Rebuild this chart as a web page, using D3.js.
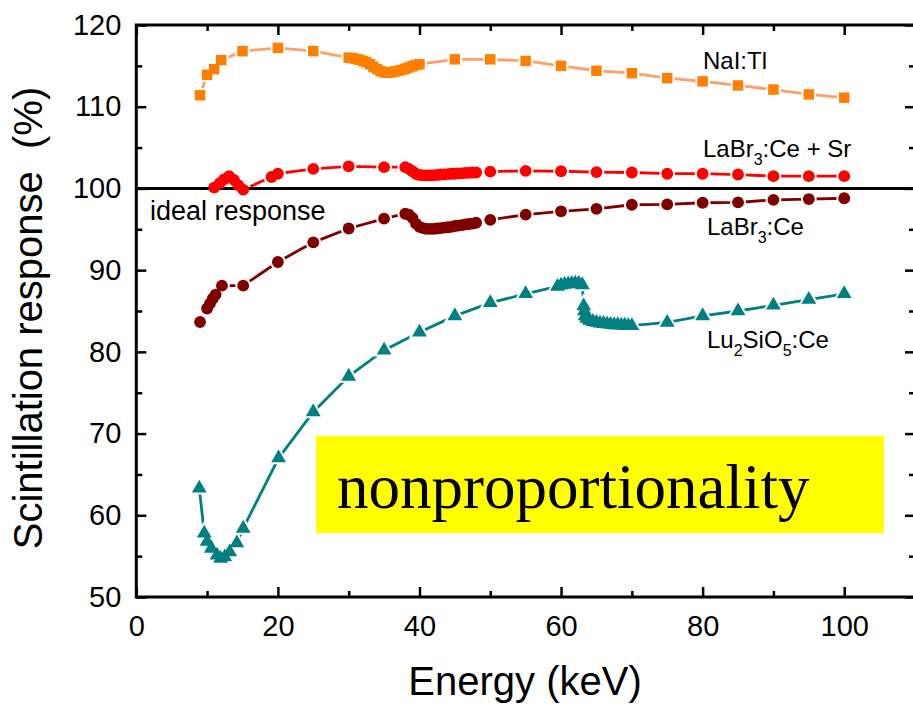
<!DOCTYPE html>
<html>
<head>
<meta charset="utf-8">
<script src="https://cdn.jsdelivr.net/npm/d3@7"></script>
<style>
  body { margin: 0; background: #fff; }
  text { font-family: "Liberation Sans", Arial, sans-serif; }
</style>
</head>
<body>
<script>
// energies (keV) and scintillation response (%)
var energyNaI = [9, 10, 11, 12, 15, 20, 25, 30, 30.5, 31, 31.5, 32, 32.5, 33, 33.5, 34, 34.5, 35, 35.5, 36, 36.5, 37, 37.5, 38, 38.5, 39, 39.5, 40, 45, 50, 55, 60, 65, 70, 75, 80, 85, 90, 95, 100];
var responseNaI = [111.4, 113.9, 114.6, 115.7, 116.8, 117.2, 116.8, 116.0, 115.95, 115.85, 115.75, 115.6, 115.45, 115.2, 114.9, 114.6, 114.35, 114.2, 114.15, 114.2, 114.3, 114.4, 114.5, 114.65, 114.8, 114.95, 115.1, 115.2, 115.8, 115.8, 115.6, 115.0, 114.4, 114.1, 113.5, 113.1, 112.6, 112.1, 111.5, 111.1];

var energyLaBrSr = [11, 11.8, 12.4, 13.1, 13.8, 14.4, 15.1, 19.1, 20, 25, 30, 35, 38, 38.5, 39, 39.5, 40, 40.5, 41, 41.5, 42, 42.5, 43, 43.5, 44, 44.5, 45, 45.5, 46, 46.5, 47, 47.5, 48, 50, 55, 60, 65, 70, 75, 80, 85, 90, 95, 100];
var responseLaBrSr = [100.1, 100.65, 101.1, 101.5, 101.05, 100.4, 99.85, 101.4, 101.8, 102.4, 102.7, 102.6, 102.6, 102.4, 102.1, 101.8, 101.65, 101.6, 101.6, 101.6, 101.6, 101.65, 101.7, 101.7, 101.75, 101.8, 101.8, 101.85, 101.85, 101.9, 101.9, 101.95, 101.95, 102.05, 102.15, 102.1, 102.0, 101.95, 101.8, 101.8, 101.7, 101.5, 101.5, 101.5];

var energyLaBr = [9, 10, 10.4, 10.8, 11.2, 12.1, 15.1, 20, 25, 30, 35, 38, 38.5, 39, 39.5, 40, 40.5, 41, 41.5, 42, 42.5, 43, 43.5, 44, 44.5, 45, 45.5, 46, 46.5, 47, 47.5, 48, 50, 55, 60, 65, 70, 75, 80, 85, 90, 95, 100];
var responseLaBr = [83.65, 85.3, 85.9, 86.5, 87.0, 88.1, 88.1, 91.0, 93.4, 95.1, 96.3, 96.9, 96.8, 96.4, 95.7, 95.3, 95.15, 95.05, 95.05, 95.05, 95.1, 95.15, 95.2, 95.25, 95.3, 95.4, 95.45, 95.5, 95.6, 95.65, 95.7, 95.8, 96.15, 96.8, 97.2, 97.5, 98.0, 98.05, 98.25, 98.3, 98.6, 98.7, 98.8];

var energyLSO = [8.9, 9.6, 10, 10.6, 11.4, 11.9, 12.5, 13.2, 14.2, 15.1, 20.1, 25, 30, 35, 40, 45, 50, 55, 59.5, 60, 60.5, 61, 61.5, 62, 62.5, 63, 63.2, 63.3, 63.4, 63.6, 64, 64.5, 65, 65.5, 66, 66.5, 67, 67.5, 68, 68.5, 69, 69.5, 70, 75, 80, 85, 90, 95, 100];
var responseLSO = [63.3, 57.8, 56.8, 55.95, 55.1, 54.7, 54.9, 55.5, 56.6, 58.4, 67.0, 72.65, 77.0, 80.2, 82.4, 84.4, 86.0, 87.1, 88.0, 88.15, 88.25, 88.3, 88.35, 88.4, 88.4, 88.2, 85.6, 85.0, 84.4, 84.1, 83.85, 83.7, 83.6, 83.5, 83.45, 83.4, 83.35, 83.3, 83.3, 83.25, 83.25, 83.2, 83.2, 83.6, 84.4, 85.0, 85.7, 86.4, 87.1];

var xMajor = [0, 20, 40, 60, 80, 100];
var xMinor = [10, 30, 50, 70, 90, 110];
var yMajor = [50, 60, 70, 80, 90, 100, 110, 120];
var yMinor = [55, 65, 75, 85, 95, 105, 115];

var width = 913, height = 705;
var plotLeft = 136.3, plotRight = 915, plotTop = 25, plotBottom = 597;

var svg = d3.select("body").append("svg").attr("width", width).attr("height", height);

var x = d3.scaleLinear().domain([0, 110]).range([plotLeft, plotRight]);
var y = d3.scaleLinear().domain([50, 120]).range([plotBottom, plotTop]);

// yellow note box behind everything
svg.append("rect").attr("x", 316).attr("y", 436).attr("width", 568).attr("height", 97).attr("fill", "#ffff00");
svg.append("text").attr("x", 337).attr("y", 508)
   .style("font-family", "'Liberation Serif', 'Times New Roman', serif")
   .style("font-size", "63px").text("nonproportionality");

// axes, ticks pointing inward on all four sides
function styleAxis(g) {
  g.select(".domain").remove();
  g.selectAll("line").attr("stroke", "#000").attr("stroke-width", 2.5);
  g.selectAll("text").style("font-size", "29px").attr("fill", "#000");
}
svg.append("g").attr("transform", "translate(0," + plotBottom + ")")
   .call(d3.axisBottom(x).tickValues(xMajor).tickSize(-10).tickPadding(18)).call(styleAxis);
svg.append("g").attr("transform", "translate(0," + plotBottom + ")")
   .call(d3.axisBottom(x).tickValues(xMinor).tickSize(-6).tickFormat("")).call(styleAxis);
svg.append("g").attr("transform", "translate(0," + plotTop + ")")
   .call(d3.axisTop(x).tickValues(xMajor).tickSize(-10).tickFormat("")).call(styleAxis);
svg.append("g").attr("transform", "translate(0," + plotTop + ")")
   .call(d3.axisTop(x).tickValues(xMinor).tickSize(-6).tickFormat("")).call(styleAxis);
svg.append("g").attr("transform", "translate(" + plotLeft + ",0)")
   .call(d3.axisLeft(y).tickValues(yMajor).tickSize(-10).tickPadding(15)).call(styleAxis);
svg.append("g").attr("transform", "translate(" + plotLeft + ",0)")
   .call(d3.axisLeft(y).tickValues(yMinor).tickSize(-6).tickFormat("")).call(styleAxis);
svg.append("g").attr("transform", "translate(" + plotRight + ",0)")
   .call(d3.axisRight(y).tickValues(yMajor).tickSize(-10).tickFormat("")).call(styleAxis);
svg.append("g").attr("transform", "translate(" + plotRight + ",0)")
   .call(d3.axisRight(y).tickValues(yMinor).tickSize(-6).tickFormat("")).call(styleAxis);

svg.append("rect").attr("x", plotLeft).attr("y", plotTop)
   .attr("width", plotRight - plotLeft).attr("height", plotBottom - plotTop)
   .attr("fill", "none").attr("stroke", "#000").attr("stroke-width", 3);

// axis titles
svg.append("text").attr("x", 525).attr("y", 695).attr("text-anchor", "middle")
   .style("font-size", "40px").text("Energy (keV)");
svg.append("text").attr("transform", "translate(42,318) rotate(-90)").attr("text-anchor", "middle")
   .style("font-size", "40px").style("white-space", "pre").text("Scintillation response  (%)");

// series
var series = [
  { e: energyNaI, r: responseNaI, symbol: d3.symbolSquare, size: 110, fill: "#ff8000", line: "#ff9f6a" },
  { e: energyLaBrSr, r: responseLaBrSr, symbol: d3.symbolCircle, size: 110, fill: "#ff0000", line: "#ff0000" },
  { e: energyLaBr, r: responseLaBr, symbol: d3.symbolCircle, size: 110, fill: "#800000", line: "#800000" },
  { e: energyLSO, r: responseLSO, symbol: d3.symbolTriangle, size: 95, fill: "#008080", line: "#008080" }
];

var line = d3.line().x(function(d) { return x(d[0]); }).y(function(d) { return y(d[1]); });

series.forEach(function(s) {
  var pts = s.e.map(function(e, i) { return [e, s.r[i]]; });
  svg.append("path").datum(pts).attr("d", line)
     .attr("fill", "none").attr("stroke", s.line).attr("stroke-width", 2.8);
  var sym = d3.symbol().type(s.symbol).size(s.size);
  // white halo gives the small gap between line and marker
  svg.append("g").selectAll("path").data(pts).enter().append("path")
     .attr("transform", function(d) { return "translate(" + x(d[0]) + "," + y(d[1]) + ")"; })
     .attr("d", sym).attr("fill", "#fff").attr("stroke", "#fff").attr("stroke-width", 4);
  s.pts = pts; s.sym = sym;
});

// ideal response line
svg.append("line").attr("x1", plotLeft).attr("x2", plotRight).attr("y1", y(100)).attr("y2", y(100))
   .attr("stroke", "#000").attr("stroke-width", 3);

series.forEach(function(s) {
  svg.append("g").selectAll("path").data(s.pts).enter().append("path")
     .attr("transform", function(d) { return "translate(" + x(d[0]) + "," + y(d[1]) + ")"; })
     .attr("d", s.sym).attr("fill", s.fill);
});

// labels
svg.append("text").attr("x", 150).attr("y", 220).style("font-size", "27px").text("ideal response");

function label(xp, yp, parts) {
  var t = svg.append("text").attr("x", xp).attr("y", yp).style("font-size", "24px");
  var shift = 0;
  parts.forEach(function(p) {
    if (p.sub) {
      t.append("tspan").attr("dy", 8 - shift).style("font-size", "16px").text(p.sub);
      shift = 8;
    } else {
      t.append("tspan").attr("dy", -shift).text(p.t);
      shift = 0;
    }
  });
}
label(703, 69, [{ t: "NaI:Tl" }]);
label(703, 157, [{ t: "LaBr" }, { sub: "3" }, { t: ":Ce + Sr" }]);
label(707, 235, [{ t: "LaBr" }, { sub: "3" }, { t: ":Ce" }]);
label(707, 348, [{ t: "Lu" }, { sub: "2" }, { t: "SiO" }, { sub: "5" }, { t: ":Ce" }]);
</script>
</body>
</html>
